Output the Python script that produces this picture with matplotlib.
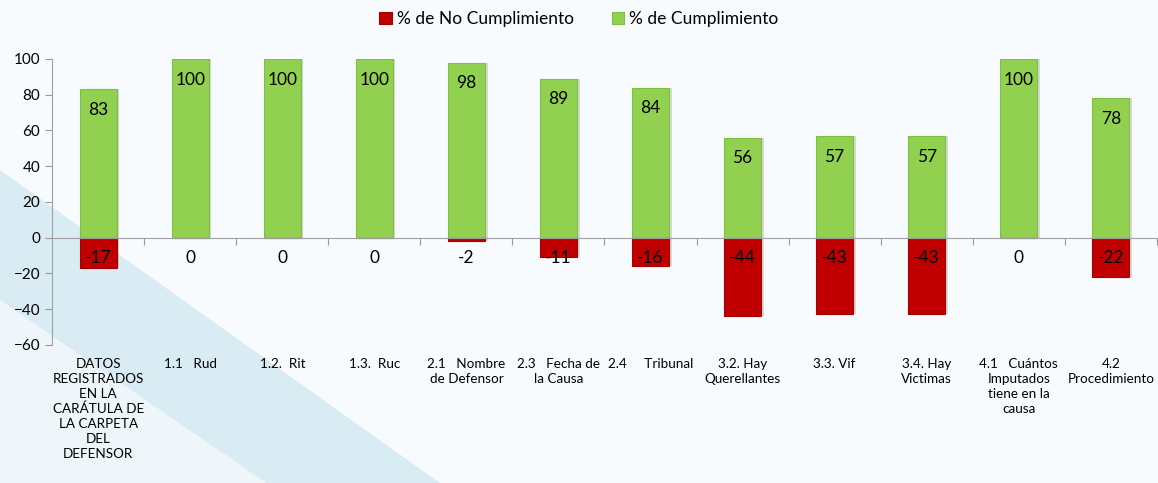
import matplotlib
matplotlib.use('Agg')
import matplotlib.pyplot as plt
from matplotlib.patches import Polygon
import matplotlib.transforms as mtransforms

categories = [
    'DATOS\nREGISTRADOS\nEN LA\nCARÁTULA DE\nLA CARPETA\nDEL\nDEFENSOR',
    '1.1   Rud', '1.2.  Rit', '1.3.  Ruc',
    '2.1   Nombre\nde Defensor', '2.3   Fecha de\nla Causa', '2.4     Tribunal',
    '3.2. Hay\nQuerellantes', '3.3. Vif', '3.4. Hay\nVictimas',
    '4.1   Cuántos\nImputados\ntiene en la\ncausa', '4.2\nProcedimiento',
]
cumple = [83, 100, 100, 100, 98, 89, 84, 56, 57, 57, 100, 78]
no_cumple = [-17, 0, 0, 0, -2, -11, -16, -44, -43, -43, 0, -22]
yticks = [-60, -40, -20, 0, 20, 40, 60, 80, 100]

plt.rcParams['font.family'] = ['Lato', 'DejaVu Sans']

fig = plt.figure(figsize=(11.58, 4.83), dpi=100)
fig.patch.set_facecolor('#f8fbfd')

# decorative swoosh, on its own axes behind everything
bg = fig.add_axes([0, 0, 1, 1], zorder=-1)
bg.set_xlim(0, 1)
bg.set_ylim(0, 1)
bg.axis('off')
bg.add_patch(Polygon([(0, 1 - 300/483), (0.23, 0), (0, 0)],
                     facecolor='#eef6fa', edgecolor='none'))
bg.add_patch(Polygon([(0, 1 - 170/483), (0.38, 0), (0.23, 0), (0, 1 - 300/483)],
                     facecolor='#d9ebf3', edgecolor='none'))

ax = fig.add_axes([0.045, 0.286, 0.954, 0.592])
ax.set_facecolor('none')

x = list(range(len(categories)))
w = 0.4
green = '#92d050'
red = '#c00000'

# soft shadows
ax.bar([i + 0.03 for i in x], cumple, width=w, color='#888888', alpha=0.3, zorder=1)
ax.bar([i + 0.03 for i in x], no_cumple, width=w, color='#888888', alpha=0.3, zorder=1)
ax.bar(x, cumple, width=w, color=green, edgecolor='#7fbf3f', linewidth=0.8,
       zorder=2, label='% de Cumplimiento')
ax.bar(x, no_cumple, width=w, color=red, edgecolor='#a00000', linewidth=0.8,
       zorder=2, label='% de No Cumplimiento')

for i in x:
    ax.annotate(str(cumple[i]), (i, cumple[i]), xytext=(0, -15),
                textcoords='offset points', ha='center', va='center',
                fontsize=12.5, color='black', zorder=3)
    ax.annotate(str(no_cumple[i]), (i, 0), xytext=(0, -15),
                textcoords='offset points', ha='center', va='center',
                fontsize=12.5, color='black', zorder=3)

ax.set_xlim(-0.5, len(categories) - 0.5)
ax.set_ylim(-60, 100)
ax.set_yticks(yticks)
ax.tick_params(axis='y', labelsize=11, length=5, color='#999999')

for s in ['top', 'right']:
    ax.spines[s].set_visible(False)
ax.spines['left'].set_color('#a0a0a0')
ax.spines['bottom'].set_color('#a0a0a0')
ax.spines['bottom'].set_position(('data', 0))
ax.set_xticks([i + 0.5 for i in x[:-1]] + [len(categories) - 0.5])
ax.set_xticklabels([])
ax.tick_params(axis='x', length=5, color='#999999')

trans = mtransforms.blended_transform_factory(ax.transData, ax.transAxes)
for i, lab in enumerate(categories):
    ax.text(i, -0.045, lab, transform=trans, ha='center', va='top',
            fontsize=9.7, linespacing=1.3)

handles, labels = ax.get_legend_handles_labels()
fig.legend(handles[::-1], labels[::-1], loc='upper center', ncol=2,
           bbox_to_anchor=(0.5, 1.01), frameon=False, fontsize=12.5,
           handlelength=0.7, handleheight=0.7, columnspacing=2.2,
           handletextpad=0.3)

fig.savefig('out.png', dpi=100, facecolor=fig.get_facecolor())
